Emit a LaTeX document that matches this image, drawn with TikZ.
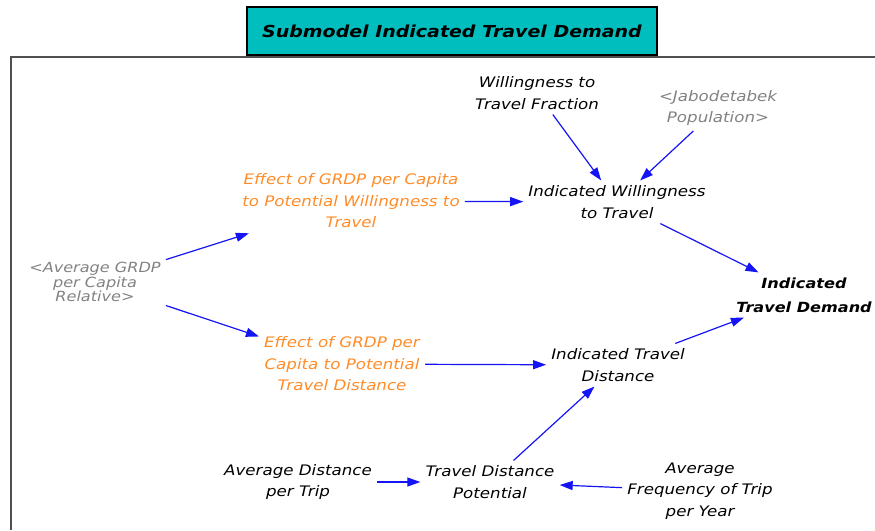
\documentclass[tikz,border=0pt]{standalone}
\usepackage{fontspec}
\setmainfont{DejaVu Sans}[FakeStretch=1.15]
\usetikzlibrary{arrows.meta}
\definecolor{linkblue}{RGB}{20,20,245}
\definecolor{auxorange}{RGB}{255,140,40}
\definecolor{shadowgrey}{RGB}{130,130,130}
\definecolor{titleteal}{RGB}{0,190,190}
\definecolor{framegrey}{RGB}{80,80,80}
\begin{document}
\begin{tikzpicture}[x=1pt,y=-1pt,
  var/.style={align=center,inner sep=5pt,font=\fontsize{14.5}{21.5}\selectfont\itshape},
  plain/.style={var,text=black},
  effect/.style={var,text=auxorange},
  shadow/.style={var,text=shadowgrey},
  link/.style={draw=linkblue,line width=1.2pt,-{Triangle[length=13pt,width=9pt]}}]
\useasboundingbox (0,0) rectangle (875,530);
% frame around the view
\draw[framegrey,line width=1.6pt] (11,530) -- (11,57) -- (875,57);
% title banner
\node[draw=black,line width=1.2pt,fill=titleteal,minimum width=410pt,minimum height=48pt,
  font=\fontsize{16.5}{20}\selectfont\bfseries\itshape] (title) at (452,31) {Submodel Indicated Travel Demand};
% variables
\node[plain] (wtf) at (537,93) {Willingness to\\Travel Fraction};
\node[shadow] (pop) at (718,108) {<Jabodetabek\\Population>};
\node[effect] (effw) at (351,201) {Effect of GRDP per Capita\\to Potential Willingness to\\Travel};
\node[plain] (iwt) at (617,202) {Indicated Willingness\\to Travel};
\node[shadow,font=\fontsize{14}{12}\selectfont\itshape] (grdp) at (95,282) {<Average GRDP\\per Capita\\Relative>};
\node[plain,font=\fontsize{14}{24}\selectfont\bfseries\itshape] (itd) at (804,295) {Indicated\\Travel Demand};
\node[effect] (effd) at (342,364) {Effect of GRDP per\\Capita to Potential\\Travel Distance};
\node[plain] (idist) at (618,365) {Indicated Travel\\Distance};
\node[plain] (adist) at (298,482) {Average Distance\\per Trip};
\node[plain] (tdp) at (490,482) {Travel Distance\\Potential};
\node[plain] (afreq) at (700,491) {Average\\Frequency of Trip\\per Year};
% causal links
\draw[link] (wtf) -- (iwt);
\draw[link] (pop) -- (iwt);
\draw[link] (effw) -- (iwt);
\draw[link] (iwt) -- (itd);
\draw[link] (grdp) -- (effw);
\draw[link] (grdp) -- (effd);
\draw[link] (effd) -- (idist);
\draw[link] (idist) -- (itd);
\draw[link] (adist) -- (tdp);
\draw[link] (tdp) -- (idist);
\draw[link] (afreq) -- (tdp);
\end{tikzpicture}
\end{document}
